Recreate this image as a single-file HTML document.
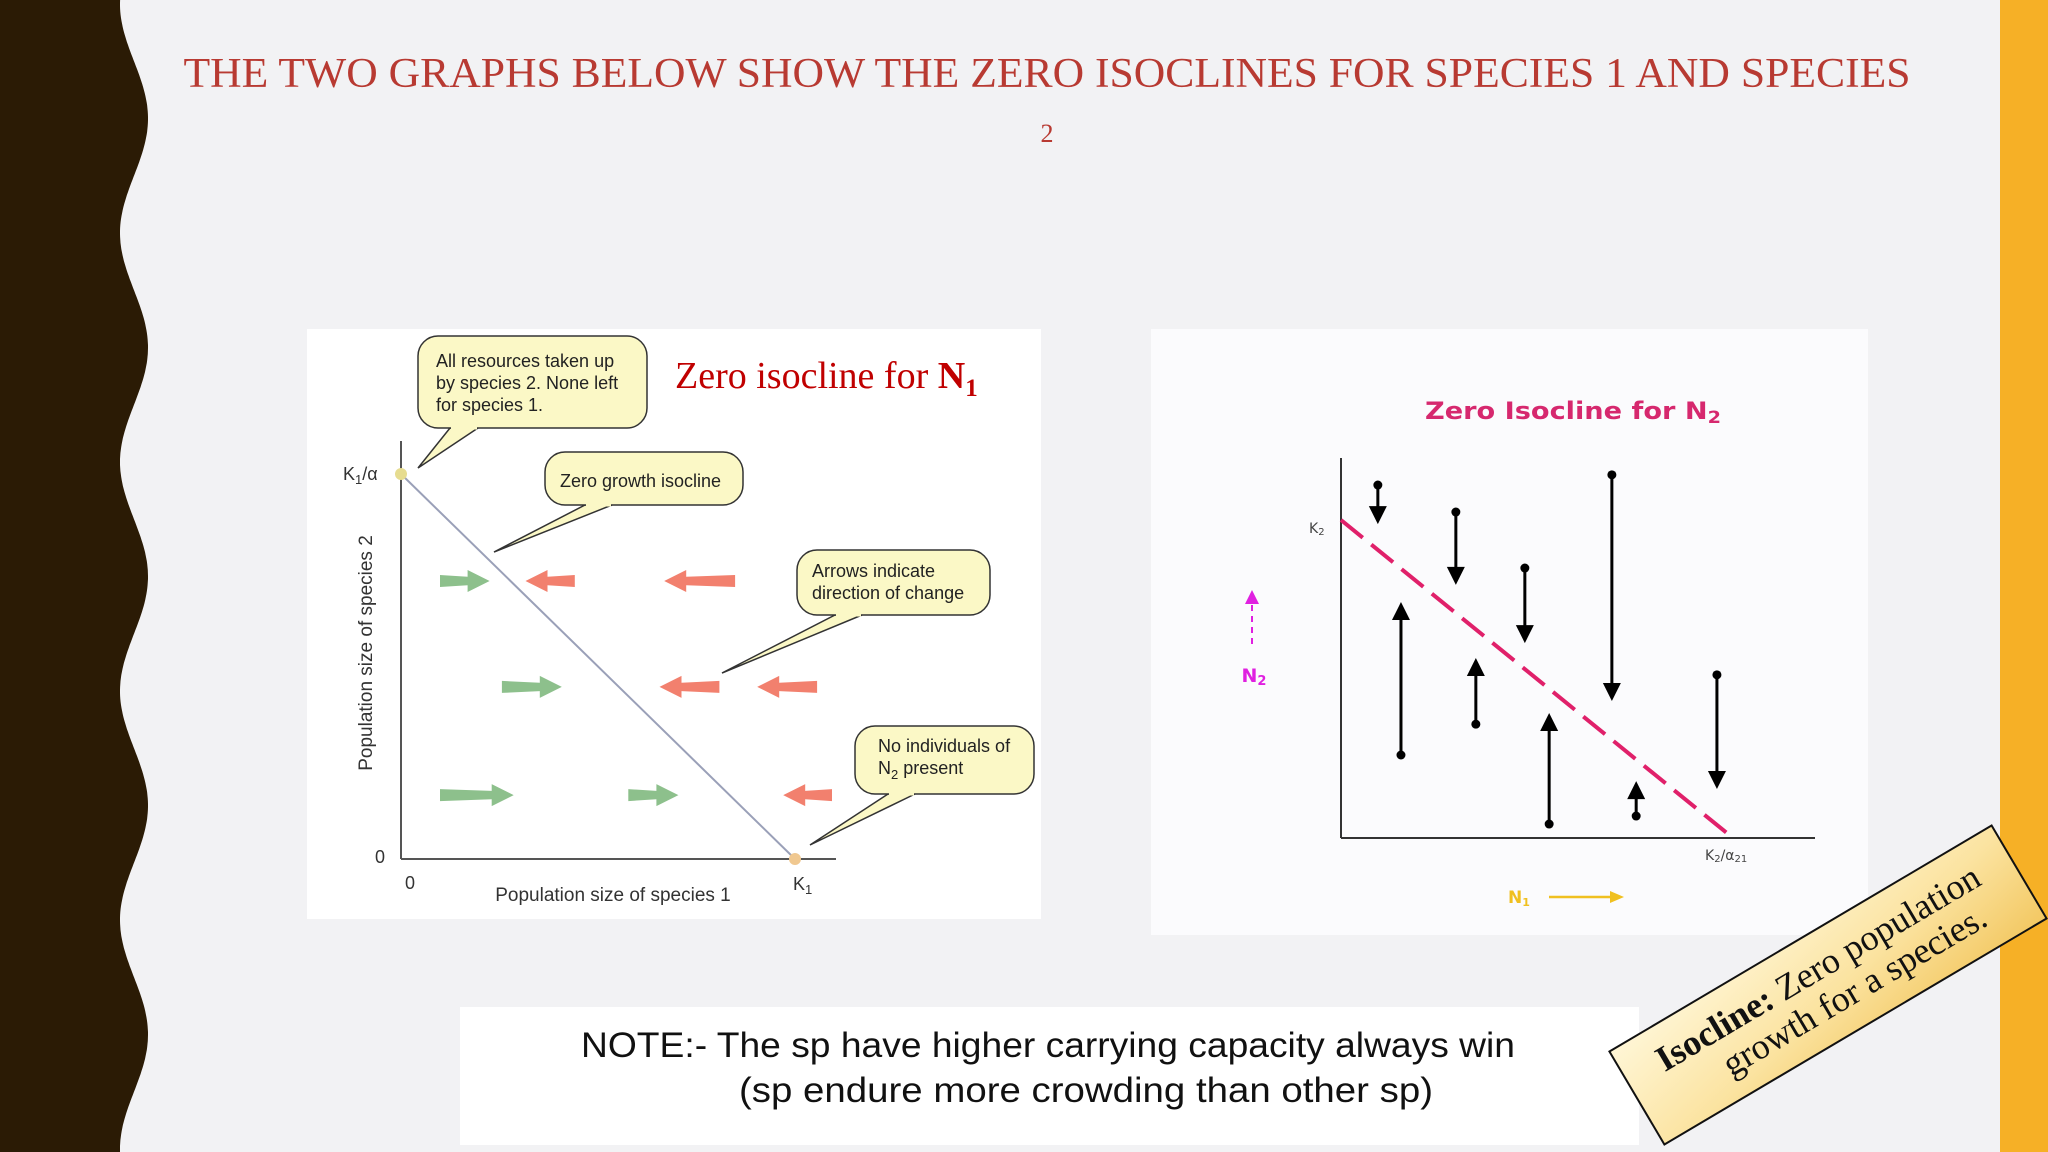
<!DOCTYPE html>
<html><head><meta charset="utf-8">
<style>
html,body{margin:0;padding:0;background:#F2F2F4;}
svg{display:block;}
</style></head>
<body>
<svg id="slide" width="2048" height="1152" viewBox="0 0 2048 1152" xmlns="http://www.w3.org/2000/svg">
<defs>
<linearGradient id="gold" x1="0" y1="0" x2="1" y2="1">
<stop offset="0" stop-color="#FFF6D6"/><stop offset="0.55" stop-color="#FBE3A0"/><stop offset="1" stop-color="#F3C862"/>
</linearGradient>
</defs>
<rect x="0" y="0" width="2048" height="1152" fill="#F2F2F4"/>
<path id="wave" fill="#2B1B05"/>
<rect x="2000" y="0" width="48" height="1152" fill="#F6B026"/>

<text x="1047" y="87" font-family="Liberation Serif, serif" font-size="42" fill="#B83A32" text-anchor="middle" textLength="1727" lengthAdjust="spacingAndGlyphs">THE TWO GRAPHS BELOW SHOW THE ZERO ISOCLINES FOR SPECIES 1 AND SPECIES</text>
<text x="1047" y="142" font-family="Liberation Serif, serif" font-size="26" fill="#B83A32" text-anchor="middle">2</text>

<!-- LEFT CHART -->
<g id="leftChart">
<rect x="307" y="329" width="734" height="590" fill="#FFFFFF"/>
<text x="675" y="388" font-family="Liberation Serif, serif" font-size="38" fill="#C00000">Zero isocline for <tspan font-weight="bold">N</tspan><tspan font-weight="bold" font-size="25" dy="8">1</tspan></text>
<g id="leftAxes"></g>
<g id="leftArrows"></g>
<g id="callouts"></g>
</g>

<!-- RIGHT CHART -->
<g id="rightChart">
<rect x="1151" y="329" width="717" height="606" fill="#FBFBFD"/>
<text x="1425" y="419" font-family="DejaVu Sans, sans-serif" font-size="24" font-weight="bold" fill="#D6286E" textLength="296" lengthAdjust="spacingAndGlyphs">Zero Isocline for N<tspan font-size="17" dy="4">2</tspan></text>
<g id="rightAxes"></g>
<g id="rightArrows"></g>
<line x1="1252" y1="644" x2="1252" y2="600" stroke="#E020E0" stroke-width="2" stroke-dasharray="6,5"/>
<polygon points="1245,604 1259,604 1252,590" fill="#E020E0"/>
<text x="1254" y="682" font-family="DejaVu Sans, sans-serif" font-size="19" font-weight="bold" fill="#E020E0" text-anchor="middle">N<tspan font-size="13" dy="3">2</tspan></text>
<text x="1508" y="903" font-family="DejaVu Sans, sans-serif" font-size="17" font-weight="bold" fill="#F0C020">N<tspan font-size="11" dy="3">1</tspan></text>
<line x1="1549" y1="897" x2="1612" y2="897" stroke="#F0C020" stroke-width="2.5"/>
<polygon points="1610,891 1624,897 1610,903" fill="#F0C020"/>
</g>

<!-- NOTE BOX -->
<rect x="460" y="1007" width="1179" height="138" fill="#FFFFFF"/>
<text x="581" y="1057" font-family="Liberation Sans, sans-serif" font-size="35" fill="#111" textLength="934" lengthAdjust="spacingAndGlyphs">NOTE:- The sp have higher carrying capacity always win</text>
<text x="739" y="1102" font-family="Liberation Sans, sans-serif" font-size="35" fill="#111" textLength="694" lengthAdjust="spacingAndGlyphs">(sp endure more crowding than other sp)</text>

<!-- ROTATED DEFINITION -->
<g transform="translate(1828,985) rotate(-30.6)">
<rect x="-222" y="-54" width="444" height="108" fill="url(#gold)" stroke="#111" stroke-width="2"/>
<text x="0" y="-8" font-family="Liberation Serif, serif" font-size="36" fill="#111" text-anchor="middle"><tspan font-weight="bold">Isocline:</tspan> Zero population</text>
<text x="20" y="30" font-family="Liberation Serif, serif" font-size="36" fill="#111" text-anchor="middle">growth for a species.</text>
</g>
</svg>
<script>
// ---- data: left chart (N1 isocline), units: K1 = 1 on x, K1/alpha = 1 on y
var rowLevels = [0.722, 0.447, 0.166];
var arrowRow = [0, 0, 0, 1, 1, 1, 2, 2, 2];
var arrowFrom = [0.099, 0.441, 0.848, 0.256, 0.808, 1.056, 0.099, 0.577, 1.094];
var arrowTo = [0.225, 0.316, 0.668, 0.408, 0.656, 0.904, 0.286, 0.704, 0.970];
var leftTickLabels = ["0", "K1", "0", "K1/α"];
// ---- data: right chart (N2 isocline), units: K2/alpha21 = 1 on x, K2 = 1 on y
var vecX = [0.094, 0.293, 0.469, 0.691, 0.959, 0.153, 0.344, 0.531, 0.753];
var vecStart = [1.110, 1.025, 0.849, 1.142, 0.513, 0.261, 0.358, 0.044, 0.069];
var vecEnd = [0.987, 0.796, 0.613, 0.431, 0.154, 0.742, 0.566, 0.393, 0.179];

var NS = "http://www.w3.org/2000/svg";
function mk(tag, attrs, parent) {
  var e = document.createElementNS(NS, tag);
  for (var k in attrs) e.setAttribute(k, attrs[k]);
  parent.appendChild(e);
  return e;
}

// wavy border
(function () {
  var d = "M0,0 ";
  for (var y = 0; y <= 1152; y += 3) {
    var x = 134 - 14 * Math.cos((y - 4) / 229 * 2 * Math.PI);
    d += "L" + x.toFixed(1) + "," + y + " ";
  }
  d += "L0,1152 Z";
  document.getElementById("wave").setAttribute("d", d);
})();

// left axis functions
function lx(v) { return 401 + v * 394; }
function ly(v) { return 859 - v * 385; }
var la = document.getElementById("leftAxes");
var e, ts;
e = mk("line", {x1: lx(0), y1: ly(0), x2: 836, y2: ly(0), stroke: "#555", "stroke-width": 2}, la);


e = mk("line", {x1: lx(0), y1: ly(0), x2: lx(0), y2: 441, stroke: "#555", "stroke-width": 2}, la);


e = mk("line", {x1: lx(0), y1: ly(1), x2: lx(1), y2: ly(0), stroke: "#9AA0B8", "stroke-width": 2}, la);


e = mk("circle", {cx: lx(0), cy: ly(1), r: 6, fill: "#E6DC90"}, la);


e = mk("circle", {cx: lx(1), cy: ly(0), r: 6, fill: "#F0C890"}, la);


var tf = "Liberation Sans, sans-serif";
e = mk("text", {x: 410, y: 889, "font-family": tf, "font-size": 18, fill: "#333", "text-anchor": "middle"}, la);
e.textContent = leftTickLabels[0];


e = mk("text", {x: 793, y: 890, "font-family": tf, "font-size": 18, fill: "#333"}, la);
e.textContent = "K"; ts = mk("tspan", {"font-size": 13, dy: 4}, e); ts.textContent = "1";


e = mk("text", {x: 380, y: 863, "font-family": tf, "font-size": 18, fill: "#333", "text-anchor": "middle"}, la);
e.textContent = leftTickLabels[2];


e = mk("text", {x: 343, y: 480, "font-family": tf, "font-size": 18, fill: "#333"}, la);
e.textContent = "K"; ts = mk("tspan", {"font-size": 13, dy: 4}, e); ts.textContent = "1";
ts = mk("tspan", {dy: -4}, e); ts.textContent = "/α";


e = mk("text", {x: 613, y: 901, "font-family": tf, "font-size": 19, fill: "#333", "text-anchor": "middle"}, la);
e.textContent = "Population size of species 1";


e = mk("text", {x: 0, y: 0, "font-family": tf, "font-size": 19, fill: "#333", "text-anchor": "middle", transform: "translate(372,653) rotate(-90)"}, la);
e.textContent = "Population size of species 2";



// block arrows
var lar = document.getElementById("leftArrows");
for (var i = 0; i < arrowFrom.length; i++) {
  var x0 = lx(arrowFrom[i]), x1 = lx(arrowTo[i]), y = ly(rowLevels[arrowRow[i]]);
  var dir = x1 > x0 ? 1 : -1;
  var hl = 22 * dir, hw = 11, sw = 6;
  var pts = [[x0, y - sw], [x1 - hl, y - sw * 0.7], [x1 - hl, y - hw], [x1, y], [x1 - hl, y + hw], [x1 - hl, y + sw * 0.7], [x0, y + sw]];
  var col = dir > 0 ? "#8DC08C" : "#F2806E";
  e = mk("polygon", {points: pts.map(function (p) { return p[0].toFixed(1) + "," + p[1].toFixed(1); }).join(" "), fill: col}, lar);
  
  
}

// callouts
var co = document.getElementById("callouts");
var calloutBoxes = [
  {x: 418, y: 336, w: 229, h: 92, tail: [[450, 428], [478, 428], [418, 468]], lines: ["All resources taken up", "by species 2.  None left", "for species 1."], tx: 436, ty: 367, name: "callout-all-resources"},
  {x: 545, y: 452, w: 198, h: 53, tail: [[585, 505], [612, 505], [494, 552]], lines: ["Zero growth isocline"], tx: 560, ty: 487, name: "callout-zero-growth"},
  {x: 797, y: 550, w: 193, h: 65, tail: [[835, 615], [862, 615], [722, 673]], lines: ["Arrows indicate", "direction of change"], tx: 812, ty: 577, name: "callout-arrows-direction"},
  {x: 855, y: 726, w: 179, h: 68, tail: [[888, 794], [915, 794], [810, 845]], lines: ["No individuals of", "N2 present"], tx: 878, ty: 752, name: "callout-no-n2"}
];
calloutBoxes.forEach(function (c) {
  var g = mk("g", {}, co);
  
  
  mk("polygon", {points: c.tail.map(function (p) { return p.join(","); }).join(" "), fill: "#FBF8C6", stroke: "#333", "stroke-width": 1.5}, g);
  mk("rect", {x: c.x, y: c.y, width: c.w, height: c.h, rx: 20, fill: "#FBF8C6", stroke: "#333", "stroke-width": 1.5}, g);
  mk("line", {x1: c.tail[0][0] + 1, y1: c.tail[0][1], x2: c.tail[1][0] - 1, y2: c.tail[1][1], stroke: "#FBF8C6", "stroke-width": 3}, g);
  c.lines.forEach(function (l, j) {
    var t = mk("text", {x: c.tx, y: c.ty + j * 22, "font-family": tf, "font-size": 18, fill: "#222"}, g);
    if (l === "N2 present") {
      t.textContent = "N"; var s = mk("tspan", {"font-size": 13, dy: 5}, t); s.textContent = "2";
      s = mk("tspan", {dy: -5}, t); s.textContent = " present";
    } else t.textContent = l;
  });
});

// right chart axis functions
function rx(v) { return 1341 + v * 392; }
function ry(v) { return 838 - v * 318; }
var ra = document.getElementById("rightAxes");
e = mk("line", {x1: rx(0), y1: ry(0), x2: 1815, y2: ry(0), stroke: "#333", "stroke-width": 2}, ra);


e = mk("line", {x1: rx(0), y1: ry(0), x2: rx(0), y2: 458, stroke: "#333", "stroke-width": 2}, ra);


e = mk("line", {x1: rx(0), y1: ry(1), x2: rx(1), y2: ry(0), stroke: "#E0206A", "stroke-width": 4, "stroke-dasharray": "28,11"}, ra);


e = mk("text", {x: 1309, y: 533, "font-family": "DejaVu Sans, sans-serif", "font-size": 14, fill: "#444"}, ra);
e.textContent = "K"; ts = mk("tspan", {"font-size": 10, dy: 2}, e); ts.textContent = "2";


e = mk("text", {x: 1705, y: 860, "font-family": "DejaVu Sans, sans-serif", "font-size": 14, fill: "#444"}, ra);
e.textContent = "K"; ts = mk("tspan", {"font-size": 10, dy: 2}, e); ts.textContent = "2";
ts = mk("tspan", {dy: -2}, e); ts.textContent = "/α";
ts = mk("tspan", {"font-size": 10, dy: 2}, e); ts.textContent = "21";



var rar = document.getElementById("rightArrows");
for (var k = 0; k < vecX.length; k++) {
  var x = rx(vecX[k]), ys = ry(vecStart[k]), ye = ry(vecEnd[k]);
  var d = ye > ys ? 1 : -1;
  var g = mk("g", {}, rar);
  
  
  mk("line", {x1: x, y1: ys, x2: x, y2: ye - d * 14, stroke: "#000", "stroke-width": 3}, g);
  mk("circle", {cx: x, cy: ys, r: 4.5, fill: "#000"}, g);
  mk("polygon", {points: (x - 9) + "," + (ye - d * 18) + " " + (x + 9) + "," + (ye - d * 18) + " " + x + "," + ye, fill: "#000"}, g);
}
</script>
</body></html>
